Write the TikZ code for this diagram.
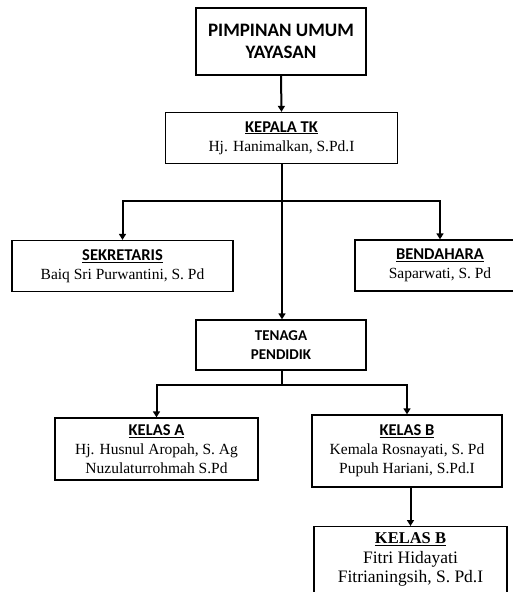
\documentclass[tikz,border=0pt]{standalone}
\usepackage{fontspec}
\setmainfont{Liberation Serif}
\newfontfamily\headfont{Carlito}
\usetikzlibrary{arrows.meta}

\newcommand{\jabatan}[1]{{\headfont\bfseries\fontsize{16.5}{19}\selectfont\underline{#1}}}

\begin{document}
\begin{tikzpicture}[x=1pt,y=-1pt,
    box/.style={draw,line width=1.3pt,inner sep=0pt,align=center,
      font=\fontsize{15.5}{19}\selectfont},
    link/.style={line width=2pt},
    arrow/.style={link,-{Triangle[width=7pt,length=6pt]}}]
    \useasboundingbox (0,0) rectangle (513,592);
    \clip (0,0) rectangle (513,592);

    \node[box,minimum width=170pt,minimum height=67pt,
      font=\headfont\bfseries\fontsize{19}{22}\selectfont] (pimpinan) at (281,41.5) {PIMPINAN UMUM\\YAYASAN};
    \node[box,minimum width=232pt,minimum height=51pt] (kepala) at (281.5,138) {\jabatan{KEPALA TK}\\Hj. Hanimalkan, S.Pd.I};
    \node[box,minimum width=221pt,minimum height=51pt] (sekretaris) at (122.5,266) {\jabatan{SEKRETARIS}\\Baiq Sri Purwantini, S. Pd};
    \node[box,minimum width=170pt,minimum height=51pt] (bendahara) at (440,265.5) {\jabatan{BENDAHARA}\\Saparwati, S. Pd};
    \node[box,minimum width=170pt,minimum height=50pt,
      font=\headfont\bfseries\fontsize{15}{19}\selectfont] (tenaga) at (281,345) {TENAGA\\PENDIDIK};
    \node[box,minimum width=203pt,minimum height=62pt] (kelasA) at (156.5,449) {\jabatan{KELAS A}\\Hj. Husnul Aropah, S. Ag\\Nuzulaturrohmah S.Pd};
    \node[box,minimum width=190pt,minimum height=72pt] (kelasB) at (407,451) {\jabatan{KELAS B}\\Kemala Rosnayati, S. Pd\\Pupuh Hariani, S.Pd.I};
    \node[box,anchor=north,minimum width=193pt,inner ysep=6pt,
      font=\fontsize{17.5}{19.5}\selectfont] (kelasBB) at (410.5,526) {\textbf{\fontsize{16.5}{19}\selectfont\underline{KELAS B}}\\Fitri Hidayati\\Fitrianingsih, S. Pd.I};

    \coordinate (cabang1) at (282,201);
    \coordinate (cabang2) at (282,385);

    \draw[arrow] (pimpinan.south) -- (kepala.north);
    \draw[arrow] (kepala.south -| cabang1) -- (tenaga.north -| cabang1);
    \draw[arrow] (cabang1) -| (sekretaris.north);
    \draw[arrow] (cabang1) -| (bendahara.north);
    \draw[link] (tenaga.south -| cabang2) -- (cabang2);
    \draw[arrow] (cabang2) -| (kelasA.north);
    \draw[arrow] (cabang2) -| (kelasB.north);
    \draw[arrow] (kelasB.south -| kelasBB.north) -- (kelasBB.north);

\end{tikzpicture}
\end{document}
